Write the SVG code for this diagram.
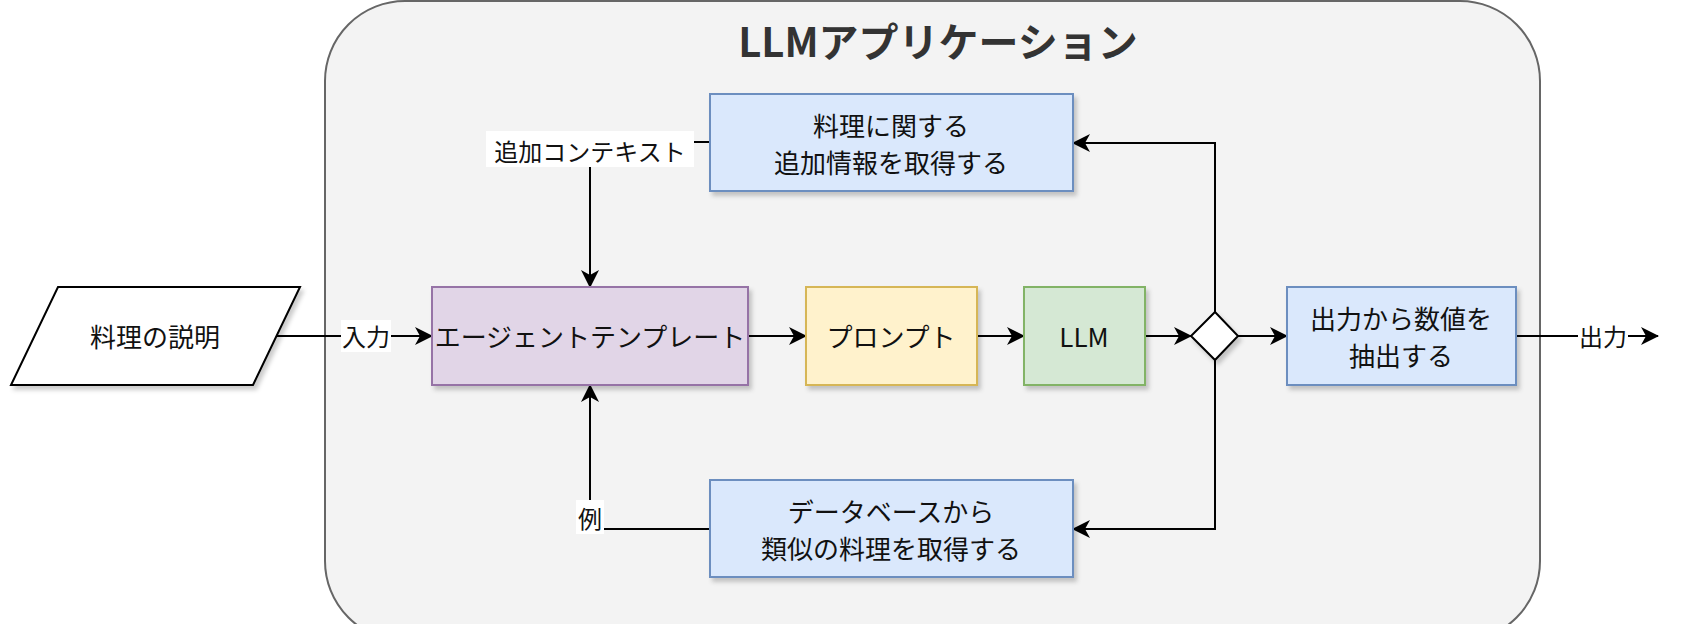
<svg xmlns="http://www.w3.org/2000/svg" width="1681" height="624" viewBox="0 0 1681 624">
<style>
text{font-family:"Noto Sans CJK JP","Noto Sans",sans-serif;font-size:26px;fill:#111;text-anchor:middle;dominant-baseline:central}
.n{stroke-width:2;filter:url(#sh)}
.c{fill:none;stroke:#000;stroke-width:2}
.lbl{fill:#fff}
.s{font-size:24px}
</style>
<defs>
<filter id="sh" x="-10%" y="-10%" width="130%" height="140%"><feDropShadow dx="3" dy="4" stdDeviation="2" flood-color="#000" flood-opacity="0.2"/></filter>
<marker id="a" markerWidth="18" markerHeight="18" refX="17" refY="9" orient="auto" markerUnits="userSpaceOnUse"><path d="M0,0 L18,9 L0,18 L5,9 Z" fill="#000"/></marker>
</defs>
<rect width="1681" height="624" fill="#fff"/>
<g id="container">
<rect x="325" y="1" width="1215" height="640" rx="80" fill="#f3f3f3" stroke="#666" stroke-width="2"/>
<text x="938" y="40" style="font-size:40px;font-weight:bold;fill:#333">LLMアプリケーション</text>
</g>
<g id="connectors">
<path class="c" d="M253,336 H432" marker-end="url(#a)"/>
<rect class="lbl" x="341" y="320" width="50" height="32"/>
<text class="s" x="366" y="335">入力</text>
<path class="c" d="M748,336 H806" marker-end="url(#a)"/>
<path class="c" d="M977,336 H1024" marker-end="url(#a)"/>
<path class="c" d="M1145,336 H1191" marker-end="url(#a)"/>
<path class="c" d="M1238,336 H1287" marker-end="url(#a)"/>
<path class="c" d="M1516,336 H1658" marker-end="url(#a)"/>
<rect class="lbl" x="1578" y="320" width="50" height="32"/>
<text class="s" x="1603" y="335">出力</text>
<path class="c" d="M1215,312 V143 H1073" marker-end="url(#a)"/>
<path class="c" d="M1215,360 V529 H1073" marker-end="url(#a)"/>
<path class="c" d="M710,142 H590 V287" marker-end="url(#a)"/>
<rect class="lbl" x="486" y="131" width="208" height="36"/>
<text class="s" x="590" y="150">追加コンテキスト</text>
<path class="c" d="M710,529 H590 V385" marker-end="url(#a)"/>
<rect class="lbl" x="576" y="500" width="28" height="34"/>
<text class="s" x="590" y="517">例</text>
</g>
<g id="input"><path class="n" d="M58,287 H300 L253,385 H11 Z" fill="#fff" stroke="#000"/><text x="155" y="335">料理の説明</text></g>
<g id="agent"><rect class="n" x="432" y="287" width="316" height="98" fill="#e1d5e7" stroke="#9673a6"/><text x="590" y="335">エージェントテンプレート</text></g>
<g id="prompt"><rect class="n" x="806" y="287" width="171" height="98" fill="#fff2cc" stroke="#d6b656"/><text x="891" y="335">プロンプト</text></g>
<g id="llm"><rect class="n" x="1024" y="287" width="121" height="98" fill="#d5e8d4" stroke="#82b366"/><text x="1084" y="335">LLM</text></g>
<g id="decision"><path class="n" d="M1215,312 L1238,336 L1215,360 L1191,336 Z" fill="#fff" stroke="#000"/></g>
<g id="extract"><rect class="n" x="1287" y="287" width="229" height="98" fill="#dae8fc" stroke="#6c8ebf"/><text x="1401" y="317">出力から数値を</text><text x="1401" y="354">抽出する</text></g>
<g id="info"><rect class="n" x="710" y="94" width="363" height="97" fill="#dae8fc" stroke="#6c8ebf"/><text x="891" y="124">料理に関する</text><text x="891" y="161">追加情報を取得する</text></g>
<g id="db"><rect class="n" x="710" y="480" width="363" height="97" fill="#dae8fc" stroke="#6c8ebf"/><text x="891" y="510">データベースから</text><text x="891" y="547">類似の料理を取得する</text></g>
</svg>
